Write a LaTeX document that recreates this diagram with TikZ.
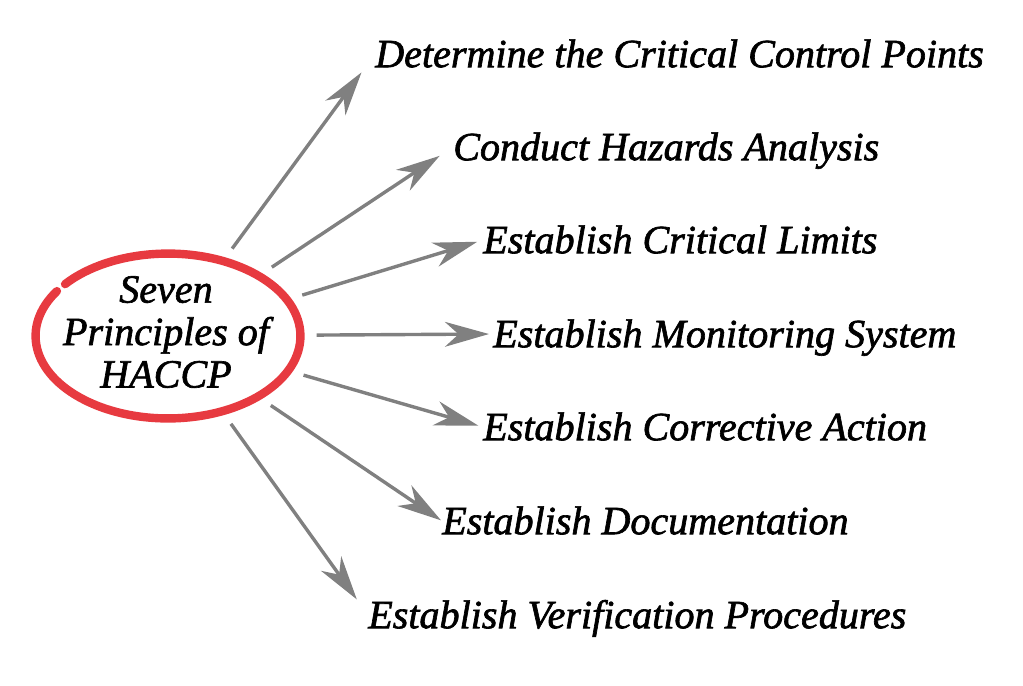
\documentclass[tikz,border=0pt]{standalone}
\usepackage{fontspec}
\setmainfont{Liberation Serif}[ItalicFeatures={FakeBold=1.6}]
\usetikzlibrary{arrows.meta, calc, shapes.geometric}
\definecolor{ringred}{RGB}{231,58,64}
\definecolor{spokegray}{RGB}{128,128,128}
\tikzset{
  principle/.style={anchor=west, inner sep=0pt, text height=0.66cm, text depth=0pt,
    font=\itshape\fontsize{28.5}{34}\selectfont},
  spoke/.style={draw=spokegray, line width=0.085cm,
    -{Stealth[length=1.1cm, width=0.62cm, inset=0.34cm]}, shorten <=0.28cm}
}

\begin{document}
\begin{tikzpicture}[x=0.025cm, y=-0.025cm]
  \useasboundingbox (0,0) rectangle (1023,685);
  \node[ellipse, minimum width=6.85cm, minimum height=4.3cm, inner sep=0pt] (haccp) at (168,336) {};
  \draw[ringred, line width=0.21cm, line cap=round] (haccp.center) ++(141:3.31cm and 2.06cm)
    arc[start angle=141, end angle=-213, x radius=3.31cm, y radius=2.06cm];
  \node[align=center, inner sep=0pt, font=\itshape\fontsize{28.5}{30.2}\selectfont] (title) at (166,332)
    {Seven\\Principles of\\HACCP};
  \foreach \n/\x/\y/\txt in {1/375/54/Determine the Critical Control Points,
      2/453/147/Conduct Hazards Analysis, 3/483/240/Establish Critical Limits,
      4/493/334/Establish Monitoring System, 5/483/427/Establish Corrective Action,
      6/442/521/Establish Documentation, 7/368/615/Establish Verification Procedures}
    \node[principle] (p\n) at (\x,\y) {\txt};
  \foreach \n/\gap in {1/0.57cm, 2/0.4cm, 3/0.15cm, 4/0.1cm, 5/0.12cm, 6/0.03cm, 7/0.48cm}
    \draw[spoke, shorten >=\gap] (haccp) -- (p\n.west);
\end{tikzpicture}
\end{document}
